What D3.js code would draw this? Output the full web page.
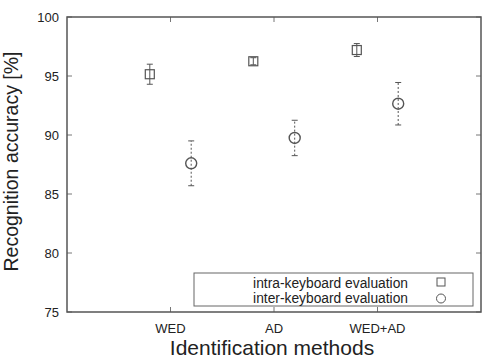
<!DOCTYPE html>
<html>
<head>
<meta charset="utf-8">
<script src="https://cdn.jsdelivr.net/npm/d3@7"></script>
<style>
  body { margin: 0; background: #fff; }
  svg { display: block; font-family: "Liberation Sans", Arial, sans-serif; }
</style>
</head>
<body>
<svg id="chart"></svg>
<script>
// Data
const methods = ["WED", "AD", "WED+AD"];
const intraMean = [95.15, 96.25, 97.2];
const intraErr = [0.85, 0.3, 0.55];
const interMean = [87.6, 89.75, 92.65];
const interErr = [1.9, 1.5, 1.8];
const yTicks = [75, 80, 85, 90, 95, 100];

const width = 491, height = 360;
const margin = { top: 17, right: 10, bottom: 48, left: 67 };

const svg = d3.select("#chart")
    .attr("width", width)
    .attr("height", height);

const x = d3.scaleLinear()
    .domain([0, 4])
    .range([margin.left, width - margin.right]);

const y = d3.scaleLinear()
    .domain([75, 100])
    .range([height - margin.bottom, margin.top]);

const frameColor = "#555";
const tickLen = 5;

// Ticks (inward, mirrored)
const tickG = svg.append("g").attr("stroke", "#777").attr("stroke-width", 1);
yTicks.forEach(v => {
    tickG.append("line")
        .attr("x1", x(0)).attr("x2", x(0) + tickLen)
        .attr("y1", y(v)).attr("y2", y(v));
    tickG.append("line")
        .attr("x1", x(4)).attr("x2", x(4) - tickLen)
        .attr("y1", y(v)).attr("y2", y(v));
});
methods.forEach((m, i) => {
    tickG.append("line")
        .attr("x1", x(i + 1)).attr("x2", x(i + 1))
        .attr("y1", y(75)).attr("y2", y(75) - tickLen);
    tickG.append("line")
        .attr("x1", x(i + 1)).attr("x2", x(i + 1))
        .attr("y1", y(100)).attr("y2", y(100) + tickLen);
});

// Tick labels
svg.append("g")
    .attr("font-size", 13)
    .attr("fill", "#222")
    .attr("text-anchor", "end")
  .selectAll("text")
  .data(yTicks)
  .join("text")
    .attr("x", x(0) - 8)
    .attr("y", d => y(d))
    .attr("dy", "0.35em")
    .text(d => d);

svg.append("g")
    .attr("font-size", 13)
    .attr("fill", "#222")
    .attr("text-anchor", "middle")
  .selectAll("text")
  .data(methods)
  .join("text")
    .attr("x", (d, i) => x(i + 1))
    .attr("y", y(75) + 21)
    .text(d => d);

// Axis titles
svg.append("text")
    .attr("x", (x(0) + x(4)) / 2 - 2)
    .attr("y", 355)
    .attr("text-anchor", "middle")
    .attr("font-size", 21)
    .attr("fill", "#222")
    .text("Identification methods");

svg.append("text")
    .attr("transform", `translate(18, ${(y(75) + y(100)) / 2 - 3}) rotate(-90)`)
    .attr("text-anchor", "middle")
    .attr("font-size", 19.5)
    .attr("fill", "#222")
    .text("Recognition accuracy [%]");

// Error bars and markers
const off = 0.2;
const cap = 3;
const intraData = methods.map((m, i) => ({ i, mean: intraMean[i], err: intraErr[i] }));
const interData = methods.map((m, i) => ({ i, mean: interMean[i], err: interErr[i] }));

const intraG = svg.append("g").attr("stroke", "#555").attr("fill", "none").attr("stroke-width", 1);
intraData.forEach(d => {
    const cx = x(d.i + 1 - off);
    intraG.append("line").attr("x1", cx).attr("x2", cx)
        .attr("y1", y(d.mean - d.err)).attr("y2", y(d.mean + d.err));
    intraG.append("line").attr("x1", cx - cap).attr("x2", cx + cap)
        .attr("y1", y(d.mean + d.err)).attr("y2", y(d.mean + d.err));
    intraG.append("line").attr("x1", cx - cap).attr("x2", cx + cap)
        .attr("y1", y(d.mean - d.err)).attr("y2", y(d.mean - d.err));
    intraG.append("rect")
        .attr("x", cx - 4.5).attr("y", y(d.mean) - 4.5)
        .attr("width", 9).attr("height", 9)
        .attr("stroke-width", 1.2);
});

const interG = svg.append("g").attr("stroke", "#555").attr("fill", "none").attr("stroke-width", 1);
interData.forEach(d => {
    const cx = x(d.i + 1 + off);
    interG.append("line").attr("x1", cx).attr("x2", cx)
        .attr("y1", y(d.mean - d.err)).attr("y2", y(d.mean + d.err))
        .attr("stroke-dasharray", "2,2");
    interG.append("line").attr("x1", cx - cap).attr("x2", cx + cap)
        .attr("y1", y(d.mean + d.err)).attr("y2", y(d.mean + d.err));
    interG.append("line").attr("x1", cx - cap).attr("x2", cx + cap)
        .attr("y1", y(d.mean - d.err)).attr("y2", y(d.mean - d.err));
    interG.append("circle")
        .attr("cx", cx).attr("cy", y(d.mean))
        .attr("r", 5.5)
        .attr("stroke-width", 1.4);
});

// Legend
const lg = svg.append("g");
lg.append("rect")
    .attr("x", 194).attr("y", 273)
    .attr("width", 279).attr("height", 33)
    .attr("fill", "#fff")
    .attr("stroke", "#666")
    .attr("stroke-width", 1);
lg.append("text")
    .attr("x", 408).attr("y", 283).attr("dy", "0.35em")
    .attr("text-anchor", "end").attr("font-size", 13.8).attr("fill", "#222")
    .text("intra-keyboard evaluation");
lg.append("text")
    .attr("x", 408).attr("y", 298.5).attr("dy", "0.35em")
    .attr("text-anchor", "end").attr("font-size", 13.8).attr("fill", "#222")
    .text("inter-keyboard evaluation");
lg.append("rect")
    .attr("x", 441 - 4).attr("y", 282 - 4)
    .attr("width", 8).attr("height", 8)
    .attr("fill", "none").attr("stroke", "#555");
lg.append("circle")
    .attr("cx", 441).attr("cy", 298.5).attr("r", 4.5)
    .attr("fill", "none").attr("stroke", "#555");

// Frame
svg.append("rect")
    .attr("x", x(0)).attr("y", y(100))
    .attr("width", x(4) - x(0)).attr("height", y(75) - y(100))
    .attr("fill", "none")
    .attr("stroke", frameColor)
    .attr("stroke-width", 1.5);
</script>
</body>
</html>
